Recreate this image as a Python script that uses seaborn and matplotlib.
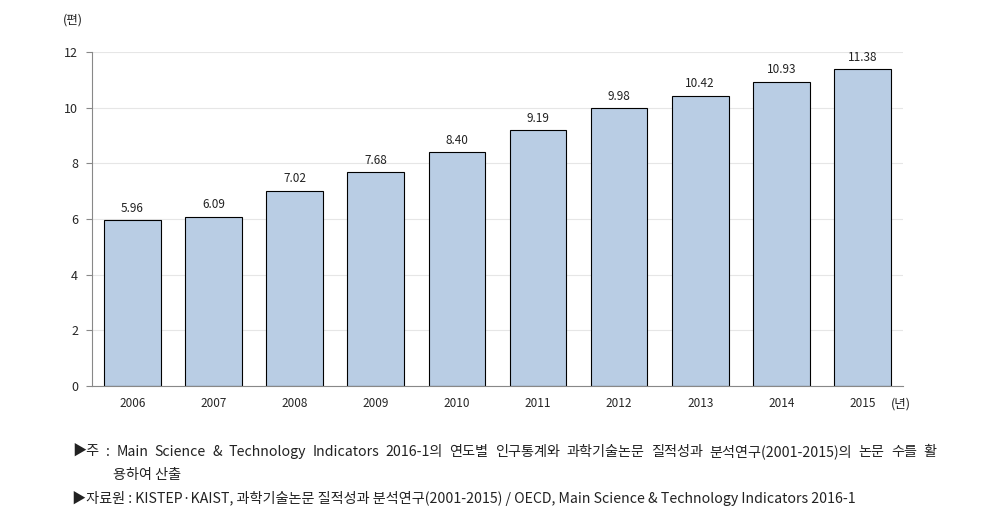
import numpy as np
import pandas as pd
import matplotlib
matplotlib.use("Agg")
import matplotlib.pyplot as plt
from matplotlib.ticker import FixedLocator
import seaborn as sns

# Données
annees = ["2006", "2007", "2008", "2009", "2010", "2011", "2012", "2013", "2014", "2015"]
valeurs = [5.96, 6.09, 7.02, 7.68, 8.40, 9.19, 9.98, 10.42, 10.93, 11.38]
graduations_y = [0, 2, 4, 6, 8, 10, 12]

note_1 = "▶주 : Main Science & Technology Indicators 2016-1의 연도별 인구통계와 과학기술논문 질적성과 분석연구(2001-2015)의 논문 수를 활"
note_2 = "용하여 산출"
source = "▶자료원 : KISTEP·KAIST, 과학기술논문 질적성과 분석연구(2001-2015) / OECD, Main Science & Technology Indicators 2016-1"

sns.set_style("white")
plt.rcParams['font.family'] = ['Noto Sans CJK KR', 'DejaVu Sans']

df = pd.DataFrame({"annee": annees, "valeur": valeurs})

fig = plt.figure(figsize=(9.92, 5.27), dpi=100)
ax = fig.add_axes([0.0927, 0.2676, 0.8175, 0.6336])

sns.barplot(data=df, x="annee", y="valeur", color="#b9cde4", saturation=1,
            edgecolor="black", linewidth=0.8, width=0.7, ax=ax)

ax.bar_label(ax.containers[0], fmt="%.2f", padding=4, fontsize=8.5, color="#222222")

ax.set_ylim(0, 12)
ax.set_xlim(-0.5, len(annees) - 0.5)
ax.set_yticks(graduations_y)
ax.yaxis.grid(True, color="#e6e6e6", linewidth=0.8)
ax.set_axisbelow(True)

# petits traits entre les catégories
ax.xaxis.set_minor_locator(FixedLocator(np.arange(-0.5, len(annees), 1.0)))
ax.tick_params(axis="x", which="major", length=0, labelsize=8.5, pad=8)
ax.tick_params(axis="x", which="minor", length=4, color="#888888", direction="out")
ax.tick_params(axis="y", which="major", length=4, color="#888888", direction="out",
               labelsize=9, left=True, pad=6)

for s in ["top", "right"]:
    ax.spines[s].set_visible(False)
ax.spines["left"].set_color("#888888")
ax.spines["bottom"].set_color("#888888")

ax.set_xlabel("")
ax.set_ylabel("")

fig.text(0.063, 0.955, "(편)", fontsize=9, color="#222222")
fig.text(0.898, 0.226, "(년)", fontsize=9, color="#222222")


def texte_justifie(fig, texte, x0, x1, y, taille):
    # répartit les mots entre x0 et x1 (coordonnées figure)
    mots = texte.split(" ")
    rendu = fig.canvas.get_renderer()
    objets = [fig.text(0, y, m, fontsize=taille, color="#222222") for m in mots]
    largeurs = [o.get_window_extent(rendu).width / fig.bbox.width for o in objets]
    espace = (x1 - x0 - sum(largeurs)) / (len(mots) - 1)
    x = x0
    for o, w in zip(objets, largeurs):
        o.set_x(x)
        x += w + espace


texte_justifie(fig, note_1, 0.073, 0.944, 0.135, 10.2)
fig.text(0.114, 0.092, note_2, fontsize=10.2, color="#222222")
fig.text(0.073, 0.045, source, fontsize=10.2, color="#222222")

fig.savefig("out.png", dpi=100)
